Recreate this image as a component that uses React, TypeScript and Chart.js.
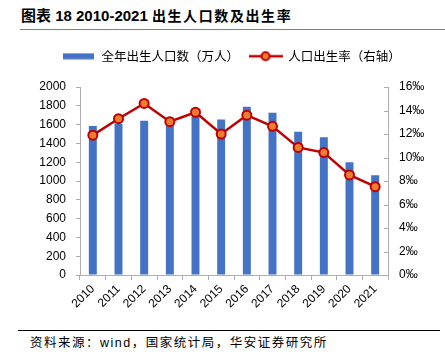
import React, { useEffect, useRef } from 'react';
import { Chart, registerables } from 'chart.js';

Chart.register(...registerables);

const years = ['2010', '2011', '2012', '2013', '2014', '2015', '2016', '2017', '2018', '2019', '2020', '2021'];
const births = [1585, 1610, 1640, 1640, 1687, 1655, 1790, 1725, 1523, 1465, 1200, 1062];
const birthRate = [11.9, 13.3, 14.6, 13.05, 13.85, 12.0, 13.6, 12.65, 10.86, 10.42, 8.52, 7.52];
const barLabel = '全年出生人口数（万人）';
const lineLabel = '人口出生率（右轴）';
const titleHead = '图表 18 2010-2021 ';
const titleTail = '出生人口数及出生率';
const sourceText = '资料来源：wind，国家统计局，华安证券研究所';

const BLUE = '#4472C4';
const RED = '#C00000';
const ORANGE = '#ED7D31';
const AXIS = '#ADADAD';
const CJK = '"Noto Sans CJK SC", sans-serif';
const LATIN = '"Liberation Sans", Arial, sans-serif';

function makeBarIcon() {
  const c = document.createElement('canvas');
  c.width = 31; c.height = 7;
  const ctx = c.getContext('2d')!;
  ctx.fillStyle = BLUE;
  ctx.fillRect(0, 0.5, 31, 6);
  return c;
}
function makeLineIcon() {
  const c = document.createElement('canvas');
  c.width = 34; c.height = 12;
  const ctx = c.getContext('2d')!;
  ctx.strokeStyle = RED;
  ctx.lineWidth = 2.5;
  ctx.beginPath(); ctx.moveTo(0, 6); ctx.lineTo(34, 6); ctx.stroke();
  ctx.beginPath(); ctx.arc(17, 6, 4, 0, Math.PI * 2);
  ctx.fillStyle = ORANGE; ctx.fill();
  ctx.lineWidth = 2; ctx.strokeStyle = RED; ctx.stroke();
  return c;
}

const innerTicks = {
  id: 'innerTicks',
  afterDraw(chart: any) {
    const s = chart.scales.y1;
    const ctx = chart.ctx;
    ctx.save();
    ctx.strokeStyle = AXIS;
    ctx.lineWidth = 1;
    s.ticks.forEach((t: any) => {
      const y = Math.round(s.getPixelForValue(t.value)) + 0.5;
      ctx.beginPath();
      ctx.moveTo(s.left - 4, y);
      ctx.lineTo(s.left, y);
      ctx.stroke();
    });
    ctx.restore();
  },
};

const legendHeight = {
  id: 'legendHeight',
  beforeInit(chart: any) {
    const orig = chart.legend.fit;
    chart.legend.fit = function () {
      orig.call(this);
      this.height = 47;
    };
  },
};

export default function App() {
  const ref = useRef<HTMLCanvasElement>(null);
  useEffect(() => {
    const barIcon = makeBarIcon();
    const lineIcon = makeLineIcon();
    const chart = new Chart(ref.current!, {
      type: 'bar',
      data: {
        labels: years,
        datasets: [
          {
            type: 'line',
            label: lineLabel,
            data: birthRate,
            yAxisID: 'y1',
            borderColor: RED,
            borderWidth: 2.5,
            pointRadius: 4.5,
            pointBackgroundColor: ORANGE,
            pointBorderColor: RED,
            pointBorderWidth: 2,
            tension: 0,
            order: 0,
          } as any,
          {
            type: 'bar',
            label: barLabel,
            data: births,
            yAxisID: 'y',
            backgroundColor: BLUE,
            barPercentage: 0.31,
            categoryPercentage: 1,
            order: 1,
          },
        ],
      },
      options: {
        animation: false,
        responsive: true,
        maintainAspectRatio: false,
        layout: { padding: 0 },
        plugins: {
          tooltip: { enabled: false },
          legend: {
            position: 'top',
            labels: {
              usePointStyle: true,
              pointStyleWidth: 33,
              padding: 10,
              color: '#000',
              font: { family: CJK, size: 12.5 },
              generateLabels: () => [
                { text: barLabel, pointStyle: barIcon, fillStyle: BLUE, strokeStyle: BLUE, lineWidth: 0, hidden: false, datasetIndex: 1 } as any,
                { text: lineLabel, pointStyle: lineIcon, fillStyle: ORANGE, strokeStyle: RED, lineWidth: 0, hidden: false, datasetIndex: 0 } as any,
              ],
            },
          },
        },
        scales: {
          x: {
            grid: { display: true, drawOnChartArea: false, offset: true, tickLength: 5, color: AXIS },
            border: { color: AXIS },
            ticks: { minRotation: 45, maxRotation: 45, padding: 2, color: '#000', font: { family: LATIN, size: 12 } },
            afterFit: (s: any) => { s.height = 55; },
          },
          y: {
            position: 'left',
            min: 0,
            max: 2000,
            ticks: { stepSize: 200, padding: 10, color: '#000', font: { family: LATIN, size: 12 }, callback: (v: any) => String(v) },
            grid: { display: true, drawOnChartArea: false, tickLength: 4, color: AXIS },
            border: { color: AXIS },
            afterFit: (s: any) => { s.width = 62; },
          },
          y1: {
            position: 'right',
            min: 0,
            max: 16,
            ticks: { stepSize: 2, padding: 11, color: '#000', font: { family: LATIN, size: 12 }, callback: (v: any) => `${v}‰` },
            grid: { display: true, drawOnChartArea: false, tickLength: 0, color: AXIS },
            border: { color: AXIS },
            afterFit: (s: any) => { s.width = 57; },
          },
        },
      },
      plugins: [legendHeight, innerTicks],
    });
    return () => chart.destroy();
  }, []);

  return (
    <div style={{ position: 'absolute', left: 0, top: 0, width: 445, height: 362, background: '#fff', overflow: 'hidden' }}>
      <div style={{ position: 'absolute', left: 21, top: 5, whiteSpace: 'nowrap', fontWeight: 'bold', color: '#000', lineHeight: '20px' }}>
        <span style={{ fontFamily: `${LATIN.split(',')[0]}, ${CJK}`, fontSize: 15 }}>{titleHead}</span>
        <span style={{ fontFamily: CJK, fontSize: 14, letterSpacing: '1.6px' }}>{titleTail}</span>
      </div>
      <div style={{ position: 'absolute', left: 20, top: 29, width: 425, height: 0, borderTop: '1.5px solid #7F7F7F' }} />
      <div style={{ position: 'absolute', left: 18, top: 40, width: 427, height: 290 }}>
        <canvas ref={ref} />
      </div>
      <div style={{ position: 'absolute', left: 18, top: 330, width: 422, height: 0, borderTop: '1px solid #000' }} />
      <div style={{ position: 'absolute', left: 30, top: 334, whiteSpace: 'nowrap', fontFamily: `${LATIN.split(',')[0]}, ${CJK}`, fontSize: 12.5, letterSpacing: '1.5px', color: '#000', lineHeight: '18px' }}>
        {sourceText}
      </div>
    </div>
  );
}
